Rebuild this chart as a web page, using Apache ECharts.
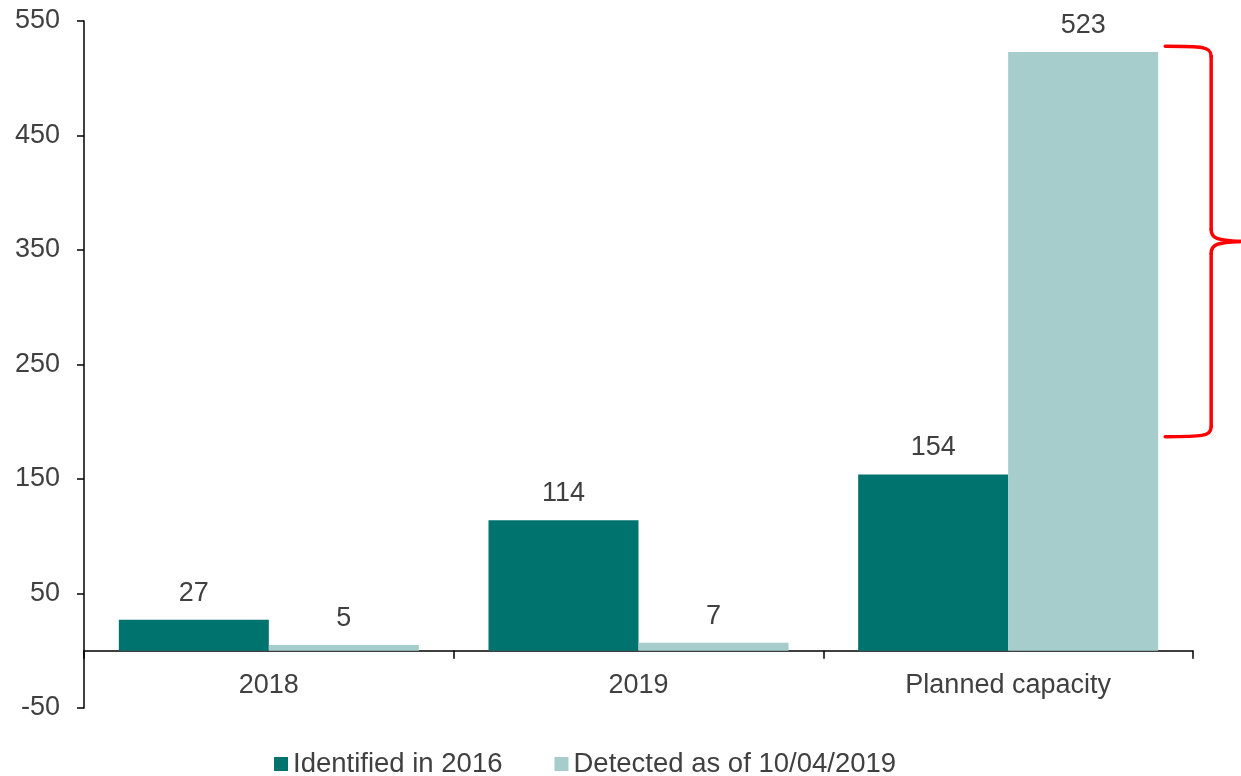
<!DOCTYPE html>
<html>
<head>
<meta charset="utf-8">
<script src="https://cdn.jsdelivr.net/npm/echarts@6/dist/echarts.min.js"></script>
<style>
  html, body { margin: 0; padding: 0; background: #fff; }
  #chart { width: 1241px; height: 776px; }
</style>
</head>
<body>
<div id="chart"></div>
<script>
// Categories and series values
const categories = ['2018', '2019', 'Planned capacity'];
const identified2016 = [27, 114, 154];
const detected2019 = [5, 7, 523];
const seriesNames = ['Identified in 2016', 'Detected as of 10/04/2019'];

// Value range spanned by the red brace next to the last bar
const braceTop = 528;
const braceBottom = 187;

const FONT = "'Liberation Sans', Arial, sans-serif";
const TEXT = '#404040';
const DARK = '#00736F';
const LIGHT = '#A6CCCC';

const chart = echarts.init(document.getElementById('chart'));

const labelStyle = {
  show: true,
  position: 'top',
  distance: 13,
  color: TEXT,
  fontSize: 27,
  fontFamily: FONT
};

chart.setOption({
  animation: false,
  grid: { left: 84, right: 48, top: 21, bottom: 68, containLabel: false },
  legend: {
    data: seriesNames,
    left: 269,
    top: 745,
    icon: 'rect',
    itemWidth: 14,
    itemHeight: 14,
    itemGap: 52,
    textStyle: { color: TEXT, fontSize: 27.5, fontFamily: FONT }
  },
  xAxis: {
    type: 'category',
    data: categories,
    axisLine: { onZero: true, lineStyle: { color: '#000', width: 1.5 } },
    axisTick: { show: true, length: 8, lineStyle: { color: '#000', width: 1.5 } },
    // labels sit just under the zero line rather than under the grid bottom
    axisLabel: { color: TEXT, fontSize: 27, fontFamily: FONT, margin: -36 }
  },
  yAxis: {
    type: 'value',
    min: -50,
    max: 550,
    interval: 100,
    splitLine: { show: false },
    axisLine: { show: true, lineStyle: { color: '#000', width: 1.5 } },
    axisTick: { show: true, length: 7, lineStyle: { color: '#000', width: 1.5 } },
    axisLabel: { color: TEXT, fontSize: 27, fontFamily: FONT, margin: 24 }
  },
  series: [
    {
      name: seriesNames[0],
      type: 'bar',
      data: identified2016,
      barWidth: 150,
      barGap: '0%',
      itemStyle: { color: DARK },
      label: labelStyle
    },
    {
      name: seriesNames[1],
      type: 'bar',
      data: detected2019,
      barWidth: 150,
      barGap: '0%',
      itemStyle: { color: LIGHT },
      label: labelStyle
    }
  ]
});

// Red curly brace to the right of the planned-capacity bars
function drawBrace() {
  const last = categories.length - 1;
  const center = chart.convertToPixel({ xAxisIndex: 0 }, categories[last]);
  const barRight = center + 150;
  const yT = chart.convertToPixel({ yAxisIndex: 0 }, braceTop);
  const yB = chart.convertToPixel({ yAxisIndex: 0 }, braceBottom);
  const yM = (yT + yB) / 2;
  const x0 = barRight + 7;
  const xv = x0 + 46;
  const xt = xv + 29;
  const style = { stroke: '#FF0000', lineWidth: 3.5, fill: null, lineCap: 'round' };
  const curve = (x1, y1, c1x, c1y, c2x, c2y, x2, y2) => ({
    type: 'bezierCurve',
    shape: { x1, y1, cpx1: c1x, cpy1: c1y, cpx2: c2x, cpy2: c2y, x2, y2 },
    style
  });
  const seg = (x1, y1, x2, y2) => ({ type: 'line', shape: { x1, y1, x2, y2 }, style });
  chart.setOption({
    graphic: [{
      type: 'group',
      silent: true,
      children: [
        curve(x0, yT, x0 + 36, yT, xv, yT, xv, yT + 10),
        seg(xv, yT + 10, xv, yM - 12),
        curve(xv, yM - 12, xv, yM - 3, xv + 6, yM - 1, xt, yM),
        curve(xt, yM, xv + 6, yM + 1, xv, yM + 3, xv, yM + 12),
        seg(xv, yM + 12, xv, yB - 10),
        curve(xv, yB - 10, xv, yB, x0 + 36, yB, x0, yB)
      ]
    }]
  });
}
drawBrace();
</script>
</body>
</html>
